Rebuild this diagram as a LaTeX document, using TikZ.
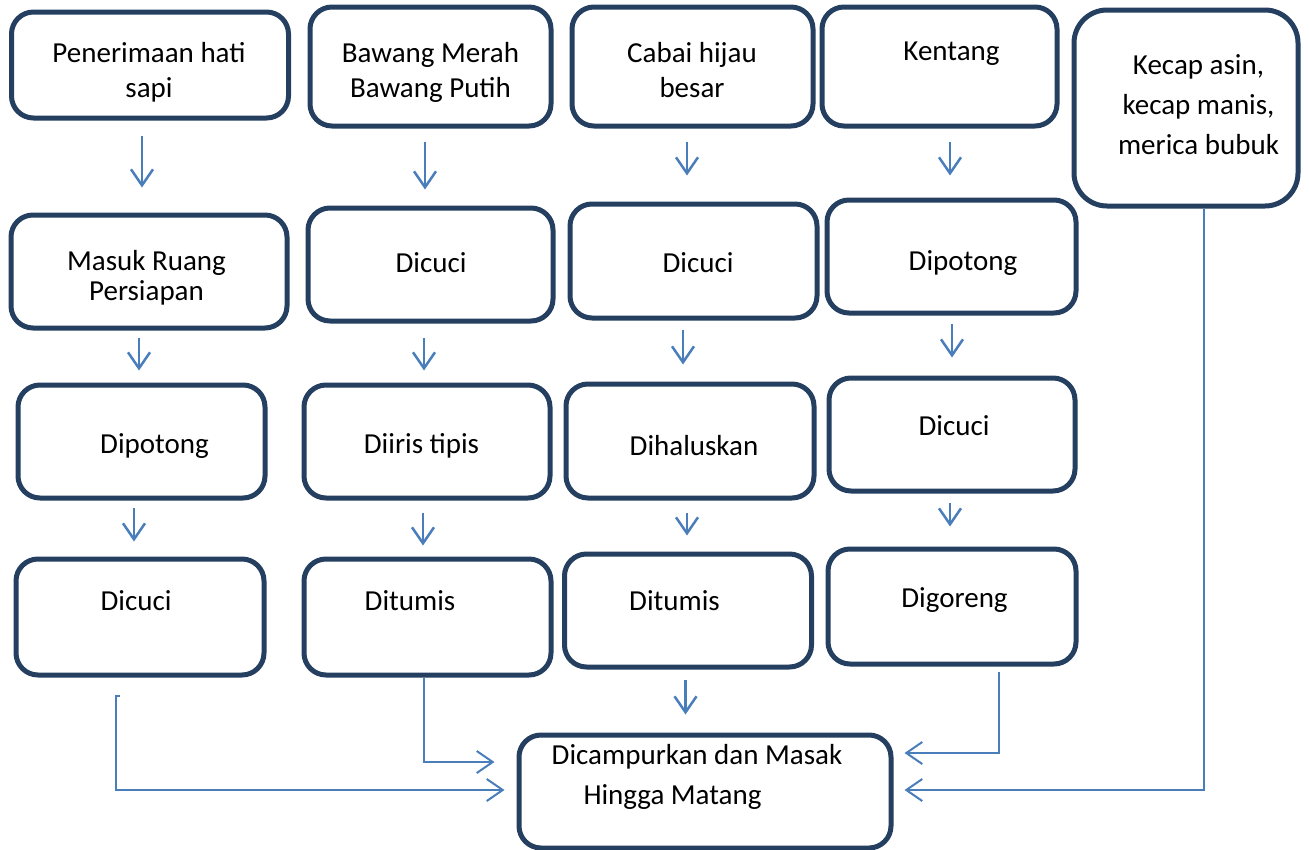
\documentclass[tikz,border=0pt]{standalone}
\usepackage{fontspec}
\setmainfont{Carlito}
\usetikzlibrary{arrows.meta}
\definecolor{boxline}{HTML}{243F60}
\definecolor{flow}{HTML}{4A7EBB}

\begin{document}
\begin{tikzpicture}[x=1pt,y=-1pt,
  every node/.style={font=\fontsize{29}{35}\selectfont},
  arr/.style={draw=flow,line width=2.5pt,-{Straight Barb[length=16pt,width=22pt]}},
  link/.style={draw=flow,line width=2pt,-{Straight Barb[length=16pt,width=22pt]}}
]

\tikzstyle{box}=[draw=boxline,line width=5pt,rounded corners=22pt,inner sep=0pt]
\tikzstyle{txt}=[anchor=base,align=center,inner sep=0pt]

\useasboundingbox (0,0) rectangle (1309,849);

% hati sapi
\node [box,minimum width=277pt,minimum height=106pt] (A1) at (150,65) {};
\node [box,minimum width=276pt,minimum height=113pt] (A2) at (149,271.5) {};
\node [box,minimum width=247pt,minimum height=113pt] (A3) at (141.5,441.5) {};
\node [box,minimum width=248pt,minimum height=116pt] (A4) at (140,617) {};
\node [txt] (tA1) at (149,97) {Penerimaan hati\\sapi};
\node [txt,font=\fontsize{29}{30}\selectfont] (tA2) at (146.5,300) {Masuk Ruang\\Persiapan};
\node [txt] (tA3) at (154.5,453) {Dipotong};
\node [txt] (tA4) at (136,610) {Dicuci};

% bawang
\node [box,minimum width=241pt,minimum height=119pt] (B1) at (430.5,66.5) {};
\node [box,minimum width=245pt,minimum height=113pt] (B2) at (430.5,264.5) {};
\node [box,minimum width=246pt,minimum height=113pt] (B3) at (427,441.5) {};
\node [box,minimum width=247pt,minimum height=116pt] (B4) at (427.5,617) {};
\node [txt] (tB1) at (430.5,97) {Bawang Merah\\Bawang Putih};
\node [txt] (tB2) at (431,272) {Dicuci};
\node [txt] (tB3) at (421.5,453) {Diiris tipis};
\node [txt] (tB4) at (410,610) {Ditumis};

% cabai
\node [box,minimum width=241pt,minimum height=119pt] (C1) at (692.5,66.5) {};
\node [box,minimum width=247pt,minimum height=114pt] (C2) at (693.5,261) {};
\node [box,minimum width=248pt,minimum height=114pt] (C3) at (690,441) {};
\node [box,minimum width=247pt,minimum height=113pt] (C4) at (688,610.5) {};
\node [txt] (tC1) at (692,97) {Cabai hijau\\besar};
\node [txt] (tC2) at (698,272) {Dicuci};
\node [txt] (tC3) at (694,455) {Dihaluskan};
\node [txt] (tC4) at (674.5,610) {Ditumis};

% kentang
\node [box,minimum width=235pt,minimum height=119pt] (D1) at (939.5,66.5) {};
\node [box,minimum width=249pt,minimum height=113pt] (D2) at (951.5,256.5) {};
\node [box,minimum width=246pt,minimum height=113pt] (D3) at (952,434.5) {};
\node [box,minimum width=248pt,minimum height=115pt] (D4) at (952,606.5) {};
\node [txt] (tD1) at (951.5,60) {Kentang};
\node [txt] (tD2) at (963,270) {Dipotong};
\node [txt] (tD3) at (954,435) {Dicuci};
\node [txt] (tD4) at (954.5,607) {Digoreng};

% bumbu
\node [box,rounded corners=33pt,minimum width=224pt,minimum height=196pt] (E) at (1186,108) {};
\node [txt,font=\fontsize{29}{40}\selectfont] (tE) at (1198.5,154) {Kecap asin,\\kecap manis,\\merica bubuk};

% hasil
\node [box,minimum width=372pt,minimum height=113pt] (F) at (705,791.5) {};
\node [txt] (tF1) at (697,764) {Dicampurkan dan Masak};
\node [txt] (tF2) at (672.5,804) {Hingga Matang};

% arrows
\draw [arr,shorten <=15pt,shorten >=25pt] ([xshift=-8pt]A1.south) -- ([xshift=-8pt]A1.south |- A2.north);
\draw [arr,shorten <=7pt,shorten >=12pt] ([xshift=-10pt]A2.south) -- ([xshift=-10pt]A2.south |- A3.north);
\draw [arr,shorten <=7pt,shorten >=15pt] ([xshift=-7.5pt]A3.south) -- ([xshift=-7.5pt]A3.south |- A4.north);

\draw [arr,shorten <=13pt,shorten >=16pt] ([xshift=-5.5pt]B1.south) -- ([xshift=-5.5pt]B1.south |- B2.north);
\draw [arr,shorten <=14pt,shorten >=12pt] ([xshift=-6.5pt]B2.south) -- ([xshift=-6.5pt]B2.south |- B3.north);
\draw [arr,shorten <=12pt,shorten >=11pt] ([xshift=-4pt]B3.south) -- ([xshift=-4pt]B3.south |- B4.north);

\draw [arr,shorten <=13pt,shorten >=26pt] ([xshift=-5.5pt]C1.south) -- ([xshift=-5.5pt]C1.south |- C2.north);
\draw [arr,shorten <=9pt,shorten >=17pt] ([xshift=-10.5pt]C2.south) -- ([xshift=-10.5pt]C2.south |- C3.north);
\draw [arr,shorten <=12pt,shorten >=16pt] ([xshift=-3pt]C3.south) -- ([xshift=-3pt]C3.south |- C4.north);
\draw [arr,shorten <=10pt,shorten >=18pt] ([xshift=-2.5pt]C4.south) -- ([xshift=-2.5pt]C4.south |- F.north);

\draw [arr,shorten <=13pt,shorten >=22pt] ([xshift=10.5pt]D1.south) -- ([xshift=10.5pt]D1.south |- D2.north);
\draw [arr,shorten <=8pt,shorten >=18pt] ([xshift=0.5pt]D2.south) -- ([xshift=0.5pt]D2.south |- D3.north);
\draw [arr,shorten <=9pt,shorten >=20pt] ([xshift=-2pt]D3.south) -- ([xshift=-2pt]D3.south |- D4.north);

% into the pan
\draw [link] ([xshift=-20pt,yshift=-18pt]A4.south) -- ++(-4,0) |- ([xshift=-12pt,yshift=1.5pt]F.west);
\draw [link] ([xshift=-4pt]B4.south) |- ([xshift=-22pt,yshift=29.5pt]F.west);
\draw [link] ([xshift=47pt,yshift=-5pt]D4.south) |- ([xshift=11pt,yshift=38.5pt]F.east);
\draw [link] ([xshift=18pt]E.south) |- ([xshift=11pt,yshift=1.5pt]F.east);
\end{tikzpicture}
\end{document}
